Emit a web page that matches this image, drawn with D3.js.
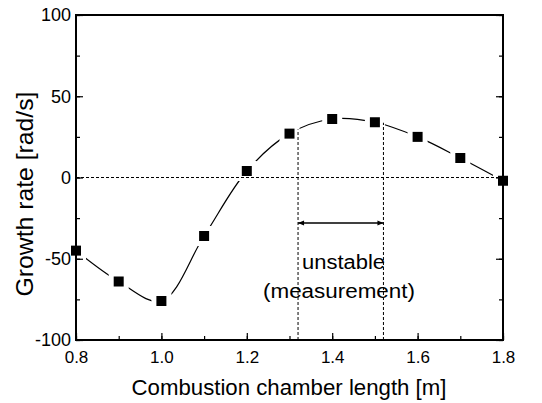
<!DOCTYPE html>
<html lang="en">
<head>
  <meta charset="UTF-8">
  <title>Growth rate vs combustion chamber length</title>
  <style>
    body { margin: 0; background: #fff; }
    svg { font-family: "Liberation Sans", Arial, sans-serif; }
  </style>
</head>
<body>
  <svg class="chart"></svg>
  <script src="https://cdn.jsdelivr.net/npm/d3@7"></script>
  <script>
    // data
    var lengths = [0.8, 0.9, 1.0, 1.1, 1.2, 1.3, 1.4, 1.5, 1.6, 1.7, 1.8];
    var growth = [-45, -64, -76, -36, 4, 27, 36, 34, 25, 12, -2];
    var xTicks = [0.8, 1.0, 1.2, 1.4, 1.6, 1.8];
    var yTicks = [-100, -50, 0, 50, 100];
    var unstableRange = [1.32, 1.52];
    var unstableTop = [29.6, 33.7];   // where the dashed verticals meet the curve
    var arrowLevel = -28;
    var labelLines = ["unstable", "(measurement)"];

    var width = 542, height = 403;
    var plotL = 76, plotR = 503, plotT = 15, plotB = 340;

    var svg = d3.select('svg')
      .attr('width', width)
      .attr('height', height);

    var x = d3.scaleLinear().domain([0.8, 1.8]).range([plotL, plotR]);
    var y = d3.scaleLinear().domain([-100, 100]).range([plotB, plotT]);

    var pts = lengths.map((d, i) => [d, growth[i]]);

    // mask so the curve stops short of each marker
    var defs = svg.append('defs');
    var mask = defs.append('mask').attr('id', 'gaps')
      .attr('maskUnits', 'userSpaceOnUse')
      .attr('x', 0).attr('y', 0).attr('width', width).attr('height', height);
    mask.append('rect').attr('x', 0).attr('y', 0)
      .attr('width', width).attr('height', height).attr('fill', '#fff');
    mask.selectAll('rect.hole')
      .data(pts)
      .enter().append('rect')
      .attr('class', 'hole')
      .attr('x', d => x(d[0]) - 10)
      .attr('y', d => y(d[1]) - 10)
      .attr('width', 20).attr('height', 20)
      .attr('fill', '#000');

    defs.append('marker')
      .attr('id', 'head')
      .attr('viewBox', '0 0 10 10')
      .attr('refX', 10).attr('refY', 5)
      .attr('markerWidth', 12).attr('markerHeight', 6)
      .attr('markerUnits', 'userSpaceOnUse')
      .attr('orient', 'auto-start-reverse')
      .append('path').attr('d', 'M0,1 L10,5 L0,9 Z').attr('fill', '#000');

    // zero line
    svg.append('line')
      .attr('x1', x(0.8)).attr('x2', x(1.8))
      .attr('y1', y(0)).attr('y2', y(0))
      .attr('stroke', '#000').attr('stroke-width', 1)
      .attr('stroke-dasharray', '3,2');

    // dashed bounds of the unstable region
    svg.selectAll('line.bound')
      .data(unstableRange)
      .enter().append('line')
      .attr('class', 'bound')
      .attr('x1', d => x(d)).attr('x2', d => x(d))
      .attr('y1', y(-100)).attr('y2', (d, i) => y(unstableTop[i]))
      .attr('stroke', '#000').attr('stroke-width', 1)
      .attr('stroke-dasharray', '3,2');

    // arrow
    svg.append('line')
      .attr('x1', x(unstableRange[0])).attr('x2', x(unstableRange[1]))
      .attr('y1', y(arrowLevel)).attr('y2', y(arrowLevel))
      .attr('stroke', '#000').attr('stroke-width', 1.5)
      .attr('marker-start', 'url(#head)')
      .attr('marker-end', 'url(#head)');

    var noteX = [343.5, 339], noteY = [269, 298], noteLen = [83, 152];
    svg.selectAll('text.note')
      .data(labelLines)
      .enter().append('text')
      .attr('class', 'note')
      .attr('x', (d, i) => noteX[i])
      .attr('y', (d, i) => noteY[i])
      .attr('text-anchor', 'middle')
      .attr('font-size', 20)
      .attr('textLength', (d, i) => noteLen[i])
      .attr('lengthAdjust', 'spacingAndGlyphs')
      .text(d => d);

    // curve
    var line = d3.line()
      .x(d => x(d[0]))
      .y(d => y(d[1]))
      .curve(d3.curveCatmullRom.alpha(0.5));

    svg.append('path')
      .datum(pts)
      .attr('d', line)
      .attr('fill', 'none')
      .attr('stroke', '#000')
      .attr('stroke-width', 1.2)
      .attr('mask', 'url(#gaps)');

    // frame and ticks
    var axisG = svg.append('g');
    var xMinor = d3.range(0.8, 1.81, 0.1);
    var yMinor = d3.range(-100, 101, 25);

    var bottomAxis = d3.axisBottom(x).tickValues(xMinor)
      .tickSize(-4).tickFormat('');
    var bottomMajor = d3.axisBottom(x).tickValues(xTicks)
      .tickSize(-7).tickPadding(11).tickFormat(d3.format('.1f'));
    var leftAxis = d3.axisLeft(y).tickValues(yMinor)
      .tickSize(-4).tickFormat('');
    var leftMajor = d3.axisLeft(y).tickValues(yTicks)
      .tickSize(-7).tickPadding(5).tickFormat(d => String(d));
    var rightAxis = d3.axisRight(y).tickValues(yMinor)
      .tickSize(-4).tickFormat('');
    var rightMajor = d3.axisRight(y).tickValues(yTicks)
      .tickSize(-7).tickFormat('');

    function place(ax, tx, ty, fs) {
      var g = axisG.append('g')
        .attr('transform', `translate(${tx},${ty})`)
        .call(ax);
      g.select('.domain').remove();
      g.selectAll('.tick line').attr('stroke', '#000').attr('stroke-width', 1.2);
      g.selectAll('text').attr('font-size', fs).attr('fill', '#000')
        .attr('font-family', '"Liberation Sans", Arial, sans-serif');
      return g;
    }
    place(bottomAxis, 0, plotB, 17);
    place(bottomMajor, 0, plotB, 17);
    place(leftAxis, plotL, 0, 18);
    place(leftMajor, plotL, 0, 18);
    place(rightAxis, plotR, 0, 18);
    place(rightMajor, plotR, 0, 18);

    axisG.append('rect')
      .attr('x', plotL).attr('y', plotT)
      .attr('width', plotR - plotL).attr('height', plotB - plotT)
      .attr('fill', 'none').attr('stroke', '#000').attr('stroke-width', 2);

    // markers
    svg.selectAll('rect.pt')
      .data(pts)
      .enter().append('rect')
      .attr('class', 'pt')
      .attr('x', d => x(d[0]) - 5)
      .attr('y', d => y(d[1]) - 5)
      .attr('width', 10).attr('height', 10)
      .attr('fill', '#000');

    // axis titles
    svg.append('text')
      .attr('x', 289)
      .attr('y', 395)
      .attr('text-anchor', 'middle')
      .attr('font-size', 22)
      .attr('textLength', 315)
      .attr('lengthAdjust', 'spacingAndGlyphs')
      .text('Combustion chamber length [m]');

    svg.append('text')
      .attr('transform', 'translate(33,194) rotate(-90)')
      .attr('text-anchor', 'middle')
      .attr('font-size', 24)
      .attr('textLength', 205)
      .attr('lengthAdjust', 'spacingAndGlyphs')
      .text('Growth rate [rad/s]');
  </script>
</body>
</html>
